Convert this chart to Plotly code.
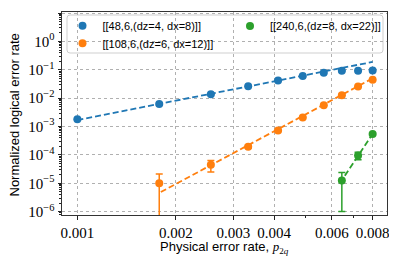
import numpy as np
import plotly.graph_objects as go

# ---------------- data ----------------
p_all = [0.001, 0.00178, 0.00256, 0.00333, 0.00411, 0.00489, 0.00567, 0.00644, 0.00722, 0.008]

blue_name = "[[48,6,(dz=4, dx=8)]]"
blue_x = p_all
blue_y = [1.8e-3, 6.2e-3, 0.0139, 0.0265, 0.042, 0.061, 0.079, 0.092, 0.092, 0.094]
blue_err = [1e-4, 3e-4, 5e-4, 8e-4, 1e-3, 1.2e-3, 1.4e-3, 1.5e-3, 1.5e-3, 1.5e-3]
blue_fit_x = [0.001, 0.008]
blue_fit_y = [1.7e-3, 0.19]

orange_name = "[[108,6,(dz=6, dx=12)]]"
orange_x = p_all[1:]
orange_y = [1.0e-5, 4.5e-5, 1.95e-4, 7.2e-4, 2.1e-3, 5.6e-3, 0.0128, 0.0257, 0.0444]
orange_err_plus = [1.1e-5, 1.8e-5, 2.5e-5, 5e-5, 1e-4, 2e-4, 3e-4, 5e-4, 7e-4]
orange_err_minus = [1.0e-5, 2.0e-5, 2.5e-5, 5e-5, 1e-4, 2e-4, 3e-4, 5e-4, 7e-4]
orange_fit_x = [0.00180, 0.008]
orange_fit_y = [4.9e-6, 0.05]

green_name = "[[240,6,(dz=8, dx=22)]]"
green_x = p_all[7:]
green_y = [1.25e-5, 9.5e-5, 5.5e-4]
green_err = [1.15e-5, 2.8e-5, 3e-5]
green_fit_x = [0.00635, 0.008]
green_fit_y = [1.0e-5, 5.5e-4]

x_tick_vals = [0.001, 0.002, 0.003, 0.004, 0.006, 0.008]
x_tick_text = ["0.001", "0.002", "0.003", "0.004", "0.006", "0.008"]
x_minor_vals = [0.005, 0.007]
y_exponents = [-6, -5, -4, -3, -2, -1, 0, 1]

x_title = "Physical error rate, <span style='font-family:Liberation Serif'><i>p</i><sub>2<i>q</i></sub></span>"
y_title = "Normalized logical error rate"

# ---------------- styling ----------------
BLUE, ORANGE, GREEN = "#1f77b4", "#ff7f0e", "#2ca02c"
SERIF = "Liberation Serif"
SANS = "Liberation Sans"

fig = go.Figure()

def add_series(name, x, y, ep, em, fx, fy, color, legend):
    fig.add_trace(go.Scatter(
        x=fx, y=fy, mode="lines", showlegend=False, hoverinfo="skip",
        line=dict(color=color, width=1.8, dash="6px,3px")))
    fig.add_trace(go.Scatter(
        x=x, y=y, mode="markers", name=name, legend=legend,
        marker=dict(color=color, size=8),
        error_y=dict(type="data", array=ep, arrayminus=em, visible=True,
                     color=color, thickness=1.5, width=3.5)))

add_series(blue_name, blue_x, blue_y, blue_err, blue_err, blue_fit_x, blue_fit_y, BLUE, "legend4")
add_series(orange_name, orange_x, orange_y, orange_err_plus, orange_err_minus, orange_fit_x, orange_fit_y, ORANGE, "legend3")
add_series(green_name, green_x, green_y, green_err, green_err, green_fit_x, green_fit_y, GREEN, "legend2")

# target page geometry (page px); the page body adds an 8px offset
W, H = 397, 265
OFF = 8
L, R, T, B = 62, 387, 12, 215
pw, ph = R - L, B - T

def px2paper(xp, yp):
    return (xp - L) / pw, (B - yp) / ph

# rounded legend box
x0, y1 = px2paper(67, 15)
x1, y0 = px2paper(383, 53)
rx, ry = 3 / pw, 3 / ph
path = (f"M {x0+rx},{y0} L {x1-rx},{y0} Q {x1},{y0} {x1},{y0+ry} "
        f"L {x1},{y1-ry} Q {x1},{y1} {x1-rx},{y1} L {x0+rx},{y1} "
        f"Q {x0},{y1} {x0},{y1-ry} L {x0},{y0+ry} Q {x0},{y0} {x0+rx},{y0} Z")
fig.add_shape(type="path", path=path, xref="paper", yref="paper",
              line=dict(color="#cfcfcf", width=1), fillcolor="rgba(255,255,255,0.8)",
              layer="between")

y_minor = [m * 10.0 ** k for k in range(-7, 1) for m in range(2, 10)]
lxb, lyb = px2paper(62.5, 25.7)
lxo, lyo = px2paper(62.5, 43.3)
lxg, lyg = px2paper(230, 26)

tx, ty = px2paper(224, 247.5)
fig.add_annotation(text=x_title, x=tx, y=ty, xref="paper", yref="paper",
                   showarrow=False, xanchor="center", yanchor="middle",
                   font=dict(family=SANS, size=13, color="black"))
ax_, ay_ = px2paper(14.5, 115)
fig.add_annotation(text=y_title, x=ax_, y=ay_, xref="paper", yref="paper",
                   showarrow=False, xanchor="center", yanchor="middle", textangle=-90,
                   font=dict(family=SANS, size=13, color="black"))

leg_common = dict(xanchor="left", yanchor="middle", bgcolor="rgba(0,0,0,0)", borderwidth=0,
                  font=dict(family=SANS, size=11))

fig.update_layout(
    width=W - OFF, height=H - OFF,
    margin=dict(l=L - OFF, r=W - R, t=T - OFF, b=H - B, autoexpand=False),
    plot_bgcolor="white", paper_bgcolor="white",
    font=dict(family=SANS, size=13, color="black"),
    showlegend=True,
    legend2=dict(x=lxg, y=lyg, **leg_common),
    legend3=dict(x=lxo, y=lyo, **leg_common),
    legend4=dict(x=lxb, y=lyb, **leg_common),
    xaxis=dict(
        type="log", range=[-3.047, -2.053], automargin=False,
        tickmode="array", tickvals=x_tick_vals, ticktext=x_tick_text,
        tickfont=dict(family=SERIF, size=15),
        ticks="outside", ticklen=3.5, tickwidth=0.8, tickcolor="#222",
        showgrid=True, gridcolor="#b0b0b0", gridwidth=0.8, griddash="dot",
        showline=True, linecolor="#333", linewidth=1, mirror=True,
        zeroline=False,
        minor=dict(tickmode="array", tickvals=x_minor_vals, ticks="outside",
                   ticklen=2, tickwidth=0.6, tickcolor="#222", showgrid=False),
    ),
    yaxis=dict(
        type="log", range=[-6.12, 1.04], automargin=False,
        tickmode="array", tickvals=[10.0 ** e for e in y_exponents],
        ticktext=[f"10<sup>{'−' if e < 0 else ''}{abs(e)}</sup>" for e in y_exponents],
        tickfont=dict(family=SERIF, size=15),
        ticks="outside", ticklen=3.5, tickwidth=0.8, tickcolor="#222",
        showgrid=True, gridcolor="#b0b0b0", gridwidth=0.8, griddash="dot",
        showline=True, linecolor="#333", linewidth=1, mirror=True,
        zeroline=False,
        minor=dict(tickmode="array", tickvals=y_minor, ticks="outside",
                   ticklen=2, tickwidth=0.6, tickcolor="#222", showgrid=False),
    ),
)

fig.write_html("out.html")
